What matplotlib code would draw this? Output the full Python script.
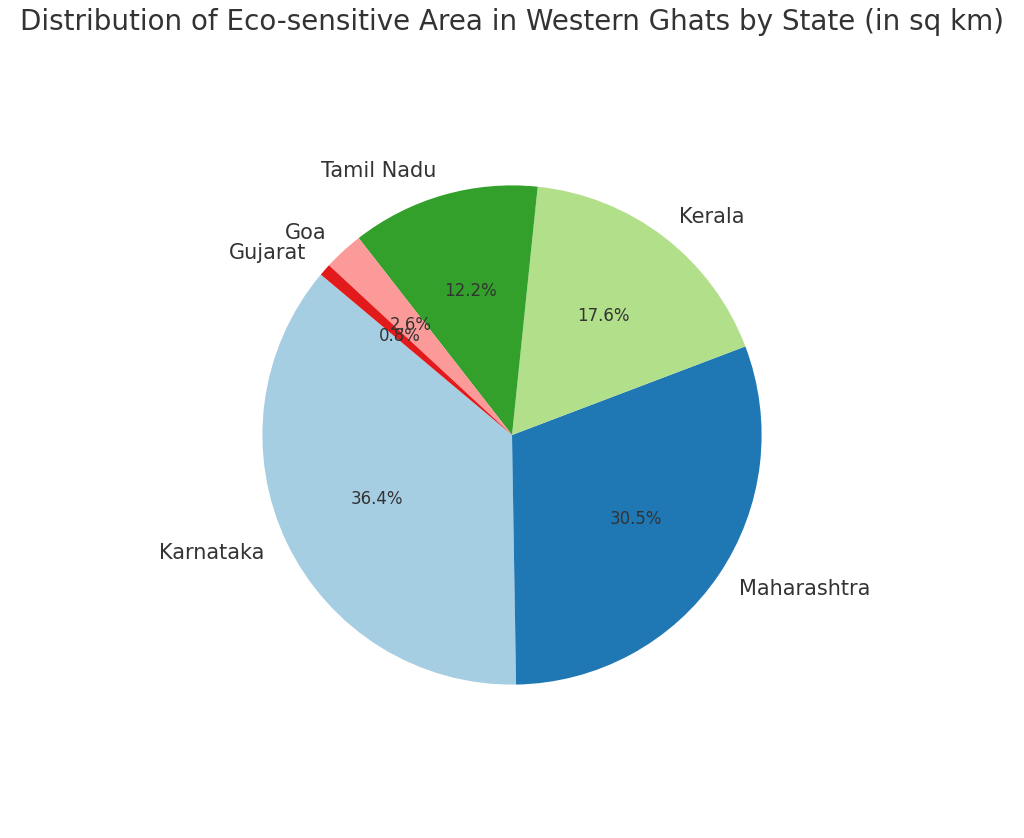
import matplotlib
matplotlib.use("Agg")
import matplotlib.pyplot as plt

states = ["Karnataka", "Maharashtra", "Kerala", "Tamil Nadu", "Goa", "Gujarat"]
area_sq_km = [20668, 17340, 9993, 6914, 1461, 449]

colors = plt.get_cmap("Paired").colors[:len(states)]

fig = plt.figure(figsize=(10.24, 8.38), dpi=100)
# pie radius ~312 px, centred at (512, 403) from bottom-left
ax = fig.add_axes([(512 - 312) / 1024, (403 - 312) / 838, 624 / 1024, 624 / 838])
wedges, texts, autotexts = ax.pie(
    area_sq_km, labels=states, colors=colors, autopct="%1.1f%%",
    startangle=140, textprops={"color": "#333333", "fontsize": 15},
)
for t in autotexts:
    t.set_fontsize(12)
ax.set_aspect("equal")
fig.suptitle("Distribution of Eco-sensitive Area in Western Ghats by State (in sq km)",
             fontsize=20, color="#333333", y=0.99)
plt.savefig("out.png", dpi=100)
plt.close()
